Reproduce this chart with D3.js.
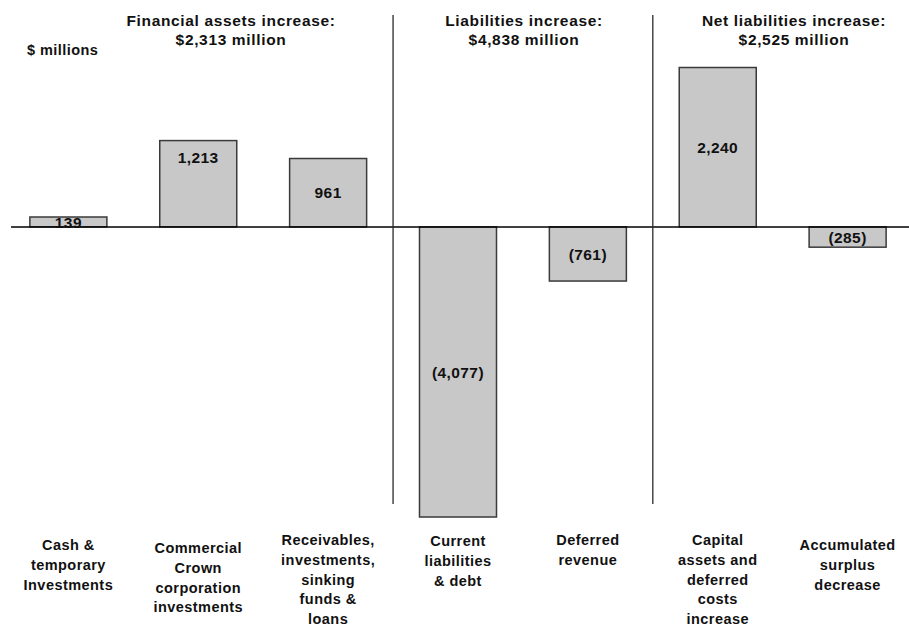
<!DOCTYPE html>
<html>
<head>
<meta charset="utf-8">
<script src="https://cdn.jsdelivr.net/npm/d3@7/dist/d3.min.js"></script>
<style>
  html, body { margin: 0; padding: 0; background: #fff; }
  svg { display: block; font-family: "Liberation Sans", Arial, sans-serif; }
</style>
</head>
<body>
<svg id="chart" width="909" height="627"></svg>
<script>
// Change components, $ millions
const categories = [
  ["Cash &", "temporary", "Investments"],
  ["Commercial", "Crown", "corporation", "investments"],
  ["Receivables,", "investments,", "sinking", "funds &", "loans"],
  ["Current", "liabilities", "& debt"],
  ["Deferred", "revenue"],
  ["Capital", "assets and", "deferred", "costs", "increase"],
  ["Accumulated", "surplus", "decrease"]
];
const values = [139, 1213, 961, -4077, -761, 2240, -285];
const valueLabels = ["139", "1,213", "961", "(4,077)", "(761)", "2,240", "(285)"];

const groupTitles = [
  ["Financial assets increase:", "$2,313 million"],
  ["Liabilities increase:", "$4,838 million"],
  ["Net liabilities increase:", "$2,525 million"]
];
const unitLabel = "$ millions";

const W = 909, H = 627;
const svg = d3.select("#chart");

const keys = categories.map((c, i) => i);

const x = d3.scaleBand()
  .domain(keys)
  .range([0, 916])
  .paddingInner(0.407)
  .paddingOuter(0.23);

const y = d3.scaleLinear()
  .domain(d3.extent(values))
  .range([517, 67.5]);

// bars
svg.append("g").selectAll("rect")
  .data(values)
  .join("rect")
  .attr("x", (d, i) => x(i))
  .attr("width", x.bandwidth())
  .attr("y", d => y(Math.max(0, d)))
  .attr("height", d => Math.abs(y(d) - y(0)))
  .attr("fill", "#c8c8c8")
  .attr("stroke", "#3a3a3a")
  .attr("stroke-width", 1.5);

// zero line
svg.append("line")
  .attr("x1", 11).attr("x2", W)
  .attr("y1", y(0)).attr("y2", y(0))
  .attr("stroke", "#000")
  .attr("stroke-width", 1.5);

// group dividers, midway between neighbouring bars
[2, 4].forEach(i => {
  const xm = (x(i) + x.bandwidth() + x(i + 1)) / 2;
  svg.append("line")
    .attr("x1", xm).attr("x2", xm)
    .attr("y1", 15).attr("y2", 504)
    .attr("stroke", "#2a2a2a")
    .attr("stroke-width", 1.3);
});

// value labels inside bars
const upperLabel = new Set([1]);
svg.append("g").selectAll("text")
  .data(values)
  .join("text")
  .attr("x", (d, i) => x(i) + x.bandwidth() / 2)
  .attr("y", (d, i) => {
    const top = y(Math.max(0, d)), bot = y(Math.min(0, d));
    return upperLabel.has(i) ? top + 17 : (top + bot) / 2;
  })
  .attr("dy", "0.36em")
  .attr("text-anchor", "middle")
  .attr("font-size", 15.5)
  .attr("font-weight", "bold")
  .attr("letter-spacing", 0.4)
  .attr("fill", "#111")
  .text((d, i) => valueLabels[i]);

// category labels (a few sit slightly lower)
const labelDrop = { 0: 5, 1: 8, 3: 1, 6: 5 };
const cat = svg.append("g").selectAll("text")
  .data(categories)
  .join("text")
  .attr("text-anchor", "middle")
  .attr("font-size", 14.5)
  .attr("font-weight", "bold")
  .attr("letter-spacing", 0.45)
  .attr("fill", "#111");
cat.each(function (lines, i) {
  d3.select(this).selectAll("tspan")
    .data(lines)
    .join("tspan")
    .attr("x", x(i) + x.bandwidth() / 2)
    .attr("y", (l, j) => 545 + (labelDrop[i] || 0) + j * 19.8)
    .text(l => l);
});

// group headers
const headerX = [231, 524, 794];
groupTitles.forEach((t, g) => {
  svg.append("text")
    .attr("text-anchor", "middle")
    .attr("font-size", 15.5)
    .attr("font-weight", "bold")
    .attr("letter-spacing", 0.65)
    .attr("fill", "#111")
    .selectAll("tspan")
    .data(t)
    .join("tspan")
    .attr("x", headerX[g])
    .attr("y", (l, j) => 26 + j * 19)
    .text(l => l);
});

svg.append("text")
  .attr("x", 27).attr("y", 55)
  .attr("font-size", 14.5)
  .attr("font-weight", "bold")
  .attr("letter-spacing", 0.45)
  .attr("fill", "#111")
  .text(unitLabel);
</script>
</body>
</html>
